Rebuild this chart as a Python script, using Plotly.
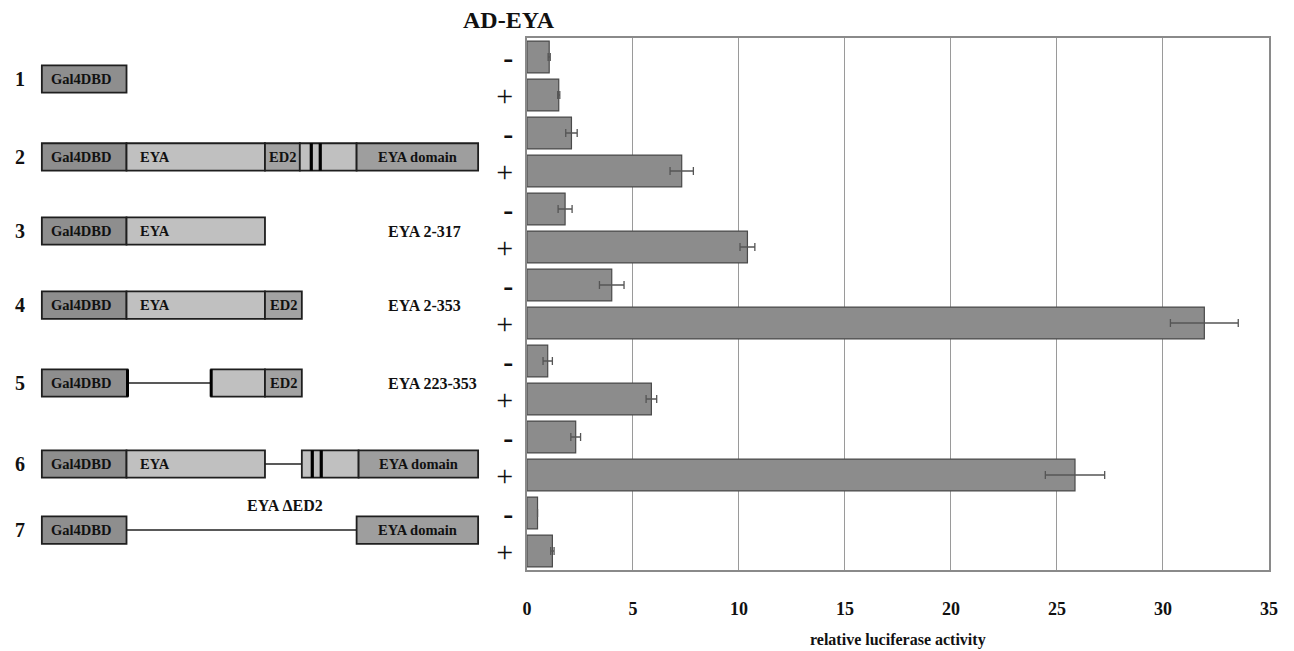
import plotly.graph_objects as go

# ---------------- data ----------------
conditions = ["-", "+", "-", "+", "-", "+", "-", "+", "-", "+", "-", "+", "-", "+"]
activity = [1.05, 1.5, 2.1, 7.3, 1.8, 10.4, 4.0, 31.95, 0.98, 5.87, 2.3, 25.85, 0.5, 1.2]
activity_err = [0.05, 0.05, 0.27, 0.55, 0.33, 0.35, 0.58, 1.6, 0.22, 0.25, 0.23, 1.4, 0.0, 0.08]
x_ticks = [0, 5, 10, 15, 20, 25, 30, 35]

construct_numbers = ["1", "2", "3", "4", "5", "6", "7"]
construct_names = ["", "", "EYA 2-317", "EYA 2-353", "EYA 223-353", "", ""]
# diagram segments per construct: (start, end, kind, label) in schematic units
construct_segments = [
    [(37, 122, "gal", "Gal4DBD")],
    [(37, 122, "gal", "Gal4DBD"), (122, 261, "eya", "EYA"), (261, 296, "ed2", "ED2"),
     (296, 353, "eya", ""), (353, 475, "dom", "EYA domain")],
    [(37, 122, "gal", "Gal4DBD"), (122, 261, "eya", "EYA")],
    [(37, 122, "gal", "Gal4DBD"), (122, 261, "eya", "EYA"), (261, 298, "ed2", "ED2")],
    [(37, 123, "gal", "Gal4DBD"), (207, 261, "eya", ""), (261, 298, "ed2", "ED2")],
    [(37, 122, "gal", "Gal4DBD"), (122, 261, "eya", "EYA"), (298, 355, "eya", ""),
     (355, 475, "dom", "EYA domain")],
    [(37, 122, "gal", "Gal4DBD"), (353, 475, "dom", "EYA domain")],
]
construct_linkers = [[], [], [], [], [(123, 207)], [(261, 298)], [(122, 353)]]
construct_marks = [[], [307.5, 316.5], [], [], [], [308.5, 317.5], []]
construct_thick_edges = [[], [], [], [], [123, 207], [], []]
deletion_label = "EYA \u0394ED2"

# ---------------- styling ----------------
W, H = 1294, 651
ML, MR, MT, MB = 0, 25, 38, 81
plot_w = W - ML - MR
plot_h = H - MT - MB
bar_x0 = 524
serif = "Liberation Serif, Times New Roman, serif"
fills = {"gal": "#8e8e8e", "eya": "#c0c0c0", "ed2": "#a2a2a2", "dom": "#9e9e9e"}

row_y = [0.58, 2.63, 4.58, 6.53, 8.58, 10.71, 12.45]
half_h = 0.36

fig = go.Figure()
fig.add_trace(go.Bar(
    x=activity, y=list(range(len(activity))), orientation="h",
    width=0.84,
    marker=dict(color="#8c8c8c", line=dict(color="#4a4a4a", width=1.2)),
    error_x=dict(type="data", array=activity_err, visible=True,
                 color="#555555", thickness=1.3, width=4),
    showlegend=False,
))

shapes = []
annotations = []
lab_font = dict(family=serif, size=14.5, color="#111", weight="bold")
for i, segs in enumerate(construct_segments):
    yc = row_y[i]
    for (a, b) in construct_linkers[i]:
        shapes.append(dict(type="line", xref="x2", yref="y", x0=a, x1=b, y0=yc, y1=yc,
                           line=dict(color="#222222", width=1.5)))
    for (a, b, kind, lab) in segs:
        shapes.append(dict(type="rect", xref="x2", yref="y", x0=a, x1=b,
                           y0=yc - half_h, y1=yc + half_h,
                           fillcolor=fills[kind], line=dict(color="#1e1e1e", width=1.8)))
        if lab:
            if kind in ("gal", "eya"):
                annotations.append(dict(xref="x2", yref="y", x=a + 7 if kind == "gal" else a + 12,
                                        y=yc, text=lab, showarrow=False, xanchor="left",
                                        yanchor="middle", font=lab_font))
            else:
                annotations.append(dict(xref="x2", yref="y", x=(a + b) / 2, y=yc, text=lab,
                                        showarrow=False, xanchor="center", yanchor="middle",
                                        font=lab_font))
    for m in construct_marks[i]:
        shapes.append(dict(type="rect", xref="x2", yref="y", x0=m - 1.6, x1=m + 1.6,
                           y0=yc - half_h, y1=yc + half_h,
                           fillcolor="#000000", line=dict(width=0)))
    for e in construct_thick_edges[i]:
        shapes.append(dict(type="line", xref="x2", yref="y", x0=e, x1=e,
                           y0=yc - half_h, y1=yc + half_h,
                           line=dict(color="#000000", width=3)))
    annotations.append(dict(xref="x2", yref="y", x=15, y=yc, text=construct_numbers[i],
                            showarrow=False, xanchor="center", yanchor="middle",
                            font=dict(family=serif, size=20, color="#111", weight="bold")))
    if construct_names[i]:
        annotations.append(dict(xref="x2", yref="y", x=383, y=yc, text=construct_names[i],
                                showarrow=False, xanchor="left", yanchor="middle",
                                font=dict(family=serif, size=16, color="#111", weight="bold")))

annotations.append(dict(xref="x2", yref="y", x=281, y=11.79, text=deletion_label,
                        showarrow=False, xanchor="center", yanchor="middle",
                        font=dict(family=serif, size=16, color="#111", weight="bold")))

# title and axis title
annotations.append(dict(xref="paper", yref="paper", x=506 / plot_w, y=(570 - 20) / plot_h,
                        text="AD-EYA", showarrow=False, xanchor="center", yanchor="middle",
                        font=dict(family=serif, size=24, color="#111", weight="bold")))
annotations.append(dict(xref="paper", yref="paper", x=((bar_x0 + 1269) / 2) / plot_w,
                        y=(570 - 640) / plot_h, text="relative luciferase activity",
                        showarrow=False, xanchor="center", yanchor="middle",
                        font=dict(family=serif, size=16, color="#111", weight="bold")))

tick_text = ["<b>" + c + "</b>" if c == "-" else c for c in conditions]

fig.update_layout(
    width=W, height=H,
    margin=dict(l=ML, r=MR, t=MT, b=MB),
    paper_bgcolor="white", plot_bgcolor="white",
    xaxis=dict(domain=[bar_x0 / plot_w, 1], range=[0, 35], tickvals=x_ticks,
               ticktext=[str(t) for t in x_ticks],
               showgrid=True, gridcolor="#9a9a9a", gridwidth=1,
               showline=True, linecolor="#8a8a8a", linewidth=1.5, mirror=True,
               ticks="", ticklabelstandoff=22, zeroline=False,
               tickfont=dict(family=serif, size=18, color="#111", weight="bold")),
    yaxis=dict(range=[13.5, -0.5], tickvals=list(range(len(conditions))),
               ticktext=tick_text, showgrid=False, zeroline=False,
               showline=True, linecolor="#8a8a8a", linewidth=1.5, mirror=True,
               ticks="", ticklabelstandoff=6,
               tickfont=dict(family=serif, size=30, color="#111")),
    xaxis2=dict(domain=[0, 500 / plot_w], range=[0, 500], anchor="y",
                visible=False, showgrid=False, zeroline=False),
    shapes=shapes,
    annotations=annotations,
    bargap=0.16,
)

fig.write_html("out.html", config={"displayModeBar": False},
               post_script="document.body.style.margin='0';")
